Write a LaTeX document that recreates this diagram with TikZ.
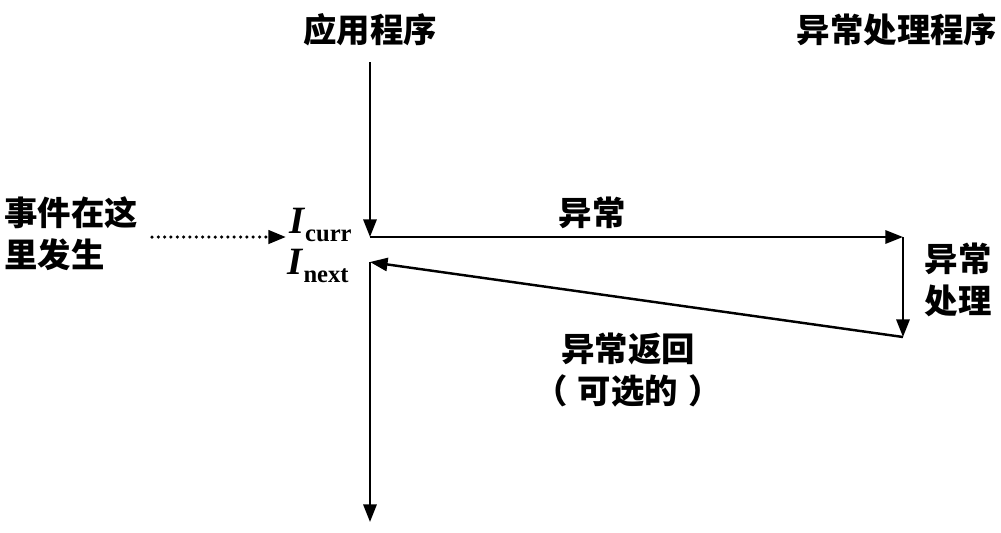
\documentclass[tikz,border=0pt]{standalone}
\usepackage{fontspec}
\setmainfont{Liberation Serif}
\newfontfamily\cjk{Noto Sans CJK SC}
\usetikzlibrary{arrows.meta}
\begin{document}
\begin{tikzpicture}[x=0.02cm,y=-0.02cm,
  tip/.style={-{Triangle[length=10pt,width=7.5pt]}},
  flow/.style={line width=1.4pt,tip},
  cn/.style={font=\cjk\bfseries\fontsize{19}{24}\selectfont,inner sep=0pt,align=center},
  instr/.style={font=\bfseries\fontsize{22}{24}\selectfont,inner sep=0pt}]
\useasboundingbox (0,0) rectangle (1001,532);

% column headings
\node[cn] (app) at (370,30) {应用程序};
\node[cn] (hdl) at (897,30) {异常处理程序};

% instruction labels
\node[instr,anchor=east] (icurr) at (352,225) {\textit{I}\raisebox{-0.4ex}{\fontsize{14}{16}\selectfont curr}};
\node[instr,anchor=east] (inext) at (349,266) {\textit{I}\raisebox{-0.4ex}{\fontsize{14}{16}\selectfont next}};

% event note
\node[cn,align=left,anchor=west] (evt) at (4,234) {事件在这\\里发生};

% control points on the flow
\coordinate (atop) at (370,62);
\coordinate (acurr) at (370,237);
\coordinate (hend) at (903,237);
\coordinate (hbot) at (903,337);
\coordinate (anext) at (370,262);
\coordinate (abot) at (370,522);
\coordinate (evtstart) at (152,237);
\coordinate (evtend) at (286,237);

% flow labels
\node[cn] (exc) at (592,213) {异常};
\node[cn] (proc) at (958,280) {异常\\处理};
\node[cn] (ret) at (628,370) {异常返回\\（\hspace{0.3em}可选的\hspace{0.3em}）};

% arrows
\draw[line width=2pt,line cap=round,dash pattern=on 0pt off 3.6pt,tip] (evtstart) -- (evtend);
\draw[flow] (atop) -- (acurr);
\draw[flow] (acurr) -- (hend);
\draw[flow] (hend) -- (hbot);
\draw[flow] (hbot) -- (anext);
\draw[flow] (anext) -- (abot);
\end{tikzpicture}
\end{document}
